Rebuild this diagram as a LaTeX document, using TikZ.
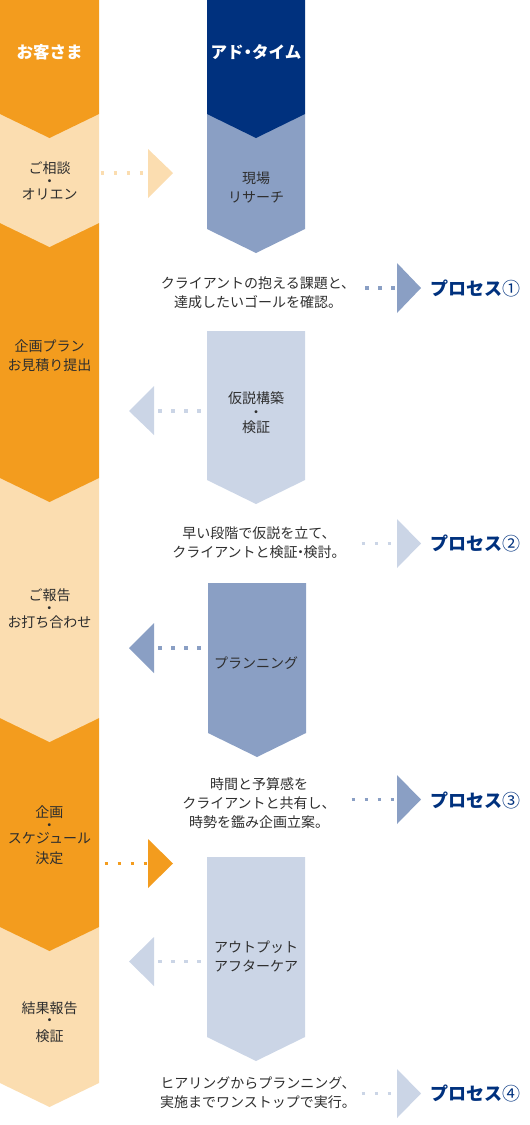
\documentclass[tikz,border=0pt]{standalone}
\usepackage{fontspec}
\newfontfamily\jp{Noto Sans CJK JP}
\definecolor{org}{HTML}{F39C1E}
\definecolor{lorg}{HTML}{FBDDB0}
\definecolor{navy}{HTML}{00317E}
\definecolor{mblue}{HTML}{8A9FC4}
\definecolor{lblue}{HTML}{CBD5E6}
\definecolor{txt}{HTML}{2E2E2E}
\newcommand\chevblock[5]{\fill[#1] (#2,#3) -- (#4,#3) -- (#4,#5) -- ({(#2+#4)/2},{#5+24}) -- (#2,#5) -- cycle;}
\newcommand\ndot{\hspace{-4pt}・\hspace{-4pt}}
\begin{document}
\begin{tikzpicture}[x=1pt,y=-1pt,
  body/.style={font=\jp\fontsize{14}{19}\selectfont, text=txt, align=center, inner sep=0pt},
  head/.style={font=\jp\bfseries\fontsize{16.5}{20}\selectfont, text=white, inner sep=0pt},
  proc/.style={font=\jp\fontsize{18}{20}\selectfont, text=navy, anchor=west, inner sep=0pt},
  dots/.style={line width=3.5pt, dash pattern=on 3.5pt off 9.5pt}]
\useasboundingbox (0,0) rectangle (530,1125);
% left column
\chevblock{lorg}{0}{927}{99}{1083}
\chevblock{org}{0}{718}{99}{927}
\chevblock{lorg}{0}{478}{99}{718}
\chevblock{org}{0}{223}{99}{478}
\chevblock{lorg}{0}{114}{99}{223}
\chevblock{org}{0}{0}{99}{114}
% right column
\chevblock{mblue}{207}{114}{305}{229}
\chevblock{navy}{207}{0}{305}{114}
\chevblock{lblue}{207}{331}{305}{480}
\chevblock{mblue}{208}{583}{306}{733}
\chevblock{lblue}{207}{857}{305}{1037}
% headers
\node[head] (cust) at (49.5,52) {お客さま};
\node[head] (adt) at (256,52) {アド\ndot タイム};
% left texts
\node[body] (l1) at (49.5,181) {ご相談\\[-6pt]・\\[-6pt]オリエン};
\node[body] (l2) at (49.5,356) {企画プラン\\お見積り提出};
\node[body] (l3) at (49.5,608.5) {ご報告\\[-6pt]・\\[-5pt]お打ち合わせ};
\node[body] (l4) at (49.5,835) {企画\\[-6pt]・\\[-6pt]スケジュール\\[1pt]決定};
\node[body] (l5) at (49.5,1022.5) {結果報告\\[-7pt]・\\[-3pt]検証};
% right texts
\node[body] (r1) at (256,187) {現場\\リサーチ};
\node[body] (r2) at (256,413) {仮説構築\\[-5pt]・\\[-4pt]検証};
\node[body] (r3) at (256,663) {プランニング};
\node[body] (r4) at (256,956) {アウトプット\\アフターケア};
% descriptions
\node[body] (d1) at (258,292.5) {クライアントの抱える課題と、\\達成したいゴールを確認。};
\node[body] (d2) at (259,543) {早い段階で仮説を立て、\\クライアントと検証\ndot 検討。};
\node[body] (d3) at (259,803.5) {時間と予算感を\\クライアントと共有し、\\時勢を鑑み企画立案。};
\node[body] (d4) at (258,1093) {ヒアリングからプランニング、\\実施までワンストップで実行。};
% process labels
\node[proc] (p1) at (430,288) {\bfseries プロセス\mdseries ①};
\node[proc] (p2) at (430,543) {\bfseries プロセス\mdseries ②};
\node[proc] (p3) at (430,800) {\bfseries プロセス\mdseries ③};
\node[proc] (p4) at (430,1093) {\bfseries プロセス\mdseries ④};
% arrow heads (triangles)
\fill[lorg] (148,149) -- (173,173) -- (148,198) -- cycle;
\fill[org] (148,839) -- (173,863.5) -- (148,888) -- cycle;
\fill[lblue] (154,386) -- (129,411) -- (154,435) -- cycle;
\fill[mblue] (154,623) -- (129,648) -- (154,673) -- cycle;
\fill[lblue] (154,937) -- (129,961.5) -- (154,986) -- cycle;
\fill[mblue] (397,263) -- (421,288) -- (397,313) -- cycle;
\fill[lblue] (397,519) -- (421,543.5) -- (397,568) -- cycle;
\fill[mblue] (397,775) -- (421,799.5) -- (397,824) -- cycle;
\fill[lblue] (397,1069) -- (421,1093.5) -- (397,1118) -- cycle;
% dotted connectors
\coordinate (a1s) at (100.5,173); \coordinate (a1e) at (143,173);
\coordinate (a2s) at (104.5,863.5); \coordinate (a2e) at (147,863.5);
\coordinate (b1s) at (200.5,411); \coordinate (b1e) at (157,411);
\coordinate (b2s) at (200.5,648); \coordinate (b2e) at (157,648);
\coordinate (b3s) at (200.5,961.5); \coordinate (b3e) at (157,961.5);
\coordinate (c1s) at (365,288); \coordinate (c1e) at (395,288);
\coordinate (c2s) at (361.5,543.5); \coordinate (c2e) at (391,543.5);
\coordinate (c3s) at (351.5,799.5); \coordinate (c3e) at (395,799.5);
\coordinate (c4s) at (361.5,1093.5); \coordinate (c4e) at (391,1093.5);
\draw[dots, lorg] (a1s) -- (a1e);
\draw[dots, org] (a2s) -- (a2e);
\draw[dots, lblue] (b1s) -- (b1e);
\draw[dots, mblue] (b2s) -- (b2e);
\draw[dots, lblue] (b3s) -- (b3e);
\draw[dots, mblue] (c1s) -- (c1e);
\draw[dots, lblue] (c2s) -- (c2e);
\draw[dots, mblue] (c3s) -- (c3e);
\draw[dots, lblue] (c4s) -- (c4e);
\end{tikzpicture}
\end{document}
